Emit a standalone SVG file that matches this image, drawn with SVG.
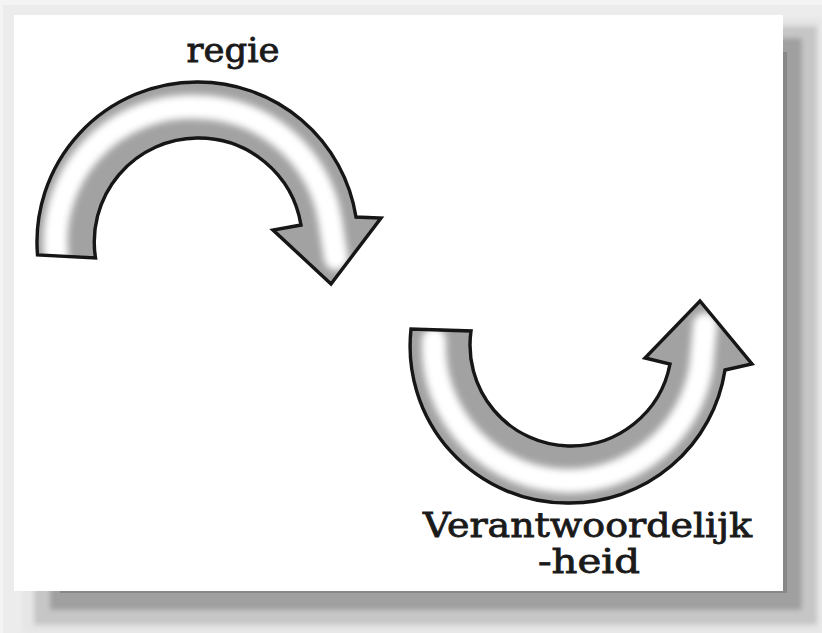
<svg xmlns="http://www.w3.org/2000/svg" width="822" height="633" viewBox="0 0 822 633">
<defs>
<style>
.lbl{font-family:"DejaVu Serif","Liberation Serif",serif;font-size:33px;fill:#1a1a1a;stroke:#1a1a1a;stroke-width:0.8;text-anchor:middle}
.body{fill:#a2a2a2}
.hl{fill:none;stroke:#ffffff;stroke-width:24;stroke-linecap:round;stroke-linejoin:round}
.edge{fill:none;stroke:#141414;stroke-width:3.4;stroke-linejoin:miter}
</style>
<filter id="blurS" x="-20%" y="-20%" width="140%" height="140%"><feGaussianBlur stdDeviation="3.5"/></filter>
<filter id="blurE" x="-5%" y="-5%" width="110%" height="110%"><feGaussianBlur stdDeviation="0.6"/></filter>
<filter id="blurShadow" x="-5%" y="-5%" width="110%" height="110%"><feGaussianBlur stdDeviation="2.5"/></filter>
<path id="a1" d="M 37.5 255 A 160 160 0 0 1 197 82 A 160 160 0 0 1 356 217 L 381 218 L 331 284 L 273 230 L 301 225 A 104 104 0 0 0 197 138 A 104 104 0 0 0 95.5 258 Z"/>
<path id="a2" d="M 411 329 A 157 157 0 0 0 568 503 A 157 157 0 0 0 725 370 L 752 364 L 700 301 L 645 358 L 670 364 A 101 101 0 0 1 568 446 A 101 101 0 0 1 471 331 Z"/>
<clipPath id="c1"><use href="#a1"/></clipPath>
<clipPath id="c2"><use href="#a2"/></clipPath>
</defs>

<g id="frame">
<rect x="0" y="0" width="822" height="633" fill="#f4f4f4"/>
<rect x="3" y="5" width="819" height="628" fill="#ececec"/>
<g filter="url(#blurShadow)">
<rect x="22" y="18" width="800" height="615" fill="#e6e6e6"/>
<rect x="34" y="26" width="783" height="599" fill="#c6c6c6"/>
<rect x="50" y="38" width="752" height="572" fill="#a0a0a0"/>
</g>
<rect x="60" y="52" width="727" height="541" fill="#888888"/>
<rect x="14" y="15" width="769" height="576" fill="#ffffff"/>
</g>

<g id="arrow-regie">
<use href="#a1" class="body"/>
<g clip-path="url(#c1)">
<path class="hl" filter="url(#blurS)" d="M 57 262 A 135 135 0 0 1 197 107 A 135 135 0 0 1 330 220 L 336 258"/>
</g>
<use href="#a1" class="edge" filter="url(#blurE)"/>
</g>

<g id="arrow-verantwoordelijkheid">
<use href="#a2" class="body"/>
<g clip-path="url(#c2)">
<path class="hl" filter="url(#blurS)" d="M 434 340 A 135 135 0 0 0 568 481 A 135 135 0 0 0 701 368 L 705 325"/>
</g>
<use href="#a2" class="edge" filter="url(#blurE)"/>
</g>

<g id="label-regie">
<text class="lbl" x="233" y="62" textLength="93" lengthAdjust="spacingAndGlyphs">regie</text>
</g>
<g id="label-verantwoordelijkheid">
<text class="lbl" x="587.5" y="537" textLength="329" lengthAdjust="spacingAndGlyphs">Verantwoordelijk</text>
<text class="lbl" x="589" y="573" textLength="102" lengthAdjust="spacingAndGlyphs">-heid</text>
</g>
</svg>
